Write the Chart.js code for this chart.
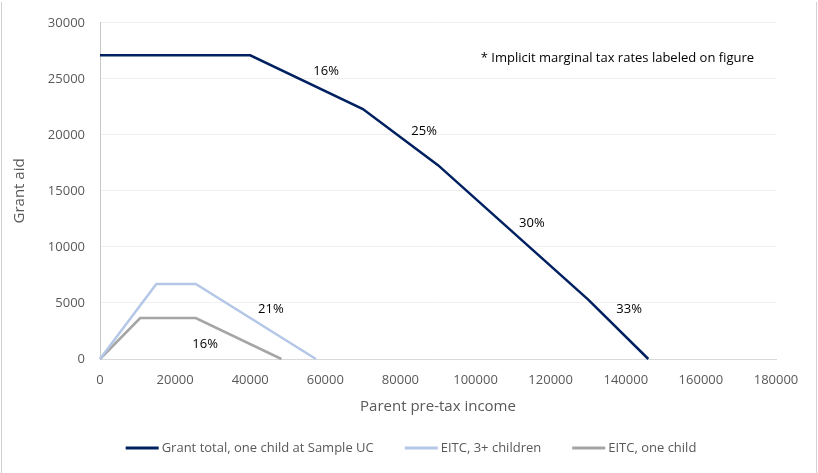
<!DOCTYPE html>
<html>
<head>
<meta charset="utf-8">
<script src="https://cdn.jsdelivr.net/npm/chart.js@4/dist/chart.umd.min.js"></script>
<style>
  html, body { margin: 0; padding: 0; background: #fff; }
  #wrap { position: relative; width: 818px; height: 473px; }
</style>
</head>
<body>
<div id="wrap"><canvas id="myChart" width="818" height="473"></canvas></div>
<script>
// grant aid and EITC schedules, by parent pre-tax income
const incomeGrant = [0, 40000, 70000, 90000, 130000, 146000];
const grantTotal  = [27100, 27100, 22300, 17300, 5300, 0];
const incomeEitc3 = [0, 15000, 25500, 57500];
const eitc3       = [0, 6700, 6700, 0];
const incomeEitc1 = [0, 10700, 25500, 48300];
const eitc1       = [0, 3650, 3650, 0];

const seriesNames = ['Grant total, one child at Sample UC', 'EITC, 3+ children', 'EITC, one child'];

// implicit marginal tax rates, placed next to each segment
const rateText = ['16%', '25%', '30%', '33%', '21%', '16%'];
const rateX    = [60200, 86300, 115000, 140900, 45500, 28000];
const rateY    = [25650, 20350, 12100, 4450, 4450, 1350];

const noteText = '* Implicit marginal tax rates labeled on figure';

const FONT = "'Open Sans', sans-serif";
const GREY = '#595959';

function pts(xs, ys) {
    return xs.map((x, i) => ({ x: x, y: ys[i] }));
}

const extras = {
    id: 'extras',
    beforeDraw(chart) {
        const ctx = chart.ctx;
        ctx.save();
        ctx.fillStyle = '#fff';
        ctx.fillRect(0, 0, chart.width, chart.height);
        ctx.strokeStyle = '#d0d0d0';
        ctx.lineWidth = 1;
        ctx.beginPath();
        ctx.moveTo(1.5, 2); ctx.lineTo(1.5, chart.height);
        ctx.moveTo(816.5, 2); ctx.lineTo(816.5, chart.height);
        ctx.stroke();
        ctx.restore();
    },
    afterDraw(chart) {
        const ctx = chart.ctx;
        const xs = chart.scales.x, ys = chart.scales.y;
        ctx.save();
        ctx.font = '13px ' + FONT;
        ctx.fillStyle = '#000';
        ctx.textAlign = 'center';
        ctx.textBaseline = 'middle';
        for (let i = 0; i < rateText.length; i++) {
            ctx.fillText(rateText[i], xs.getPixelForValue(rateX[i]), ys.getPixelForValue(rateY[i]));
        }
        ctx.textAlign = 'left';
        ctx.fillText(noteText, xs.getPixelForValue(101400), ys.getPixelForValue(26850));

        // legend along the bottom
        ctx.font = '13px ' + FONT;
        const sample = 33, gap = 3, spacing = 31;
        const widths = chart.data.datasets.map(d => ctx.measureText(d.label).width);
        let total = widths.reduce((a, b) => a + b, 0) + widths.length * (sample + gap) + (widths.length - 1) * spacing;
        let x = 411 - total / 2;
        const y = 448;
        chart.data.datasets.forEach((d, i) => {
            ctx.strokeStyle = d.borderColor;
            ctx.lineWidth = 3;
            ctx.beginPath();
            ctx.moveTo(x, y);
            ctx.lineTo(x + sample, y);
            ctx.stroke();
            ctx.fillStyle = GREY;
            ctx.fillText(d.label, x + sample + gap, y);
            x += sample + gap + widths[i] + spacing;
        });
        ctx.restore();
    }
};

const ctx = document.getElementById('myChart').getContext('2d');
const myChart = new Chart(ctx, {
    type: 'line',
    data: {
        datasets: [{
            label: seriesNames[0],
            data: pts(incomeGrant, grantTotal),
            borderColor: '#002060',
            borderWidth: 2.5
        }, {
            label: seriesNames[1],
            data: pts(incomeEitc3, eitc3),
            borderColor: '#B4C7E7',
            borderWidth: 2.5
        }, {
            label: seriesNames[2],
            data: pts(incomeEitc1, eitc1),
            borderColor: '#A5A5A5',
            borderWidth: 2.5
        }]
    },
    options: {
        responsive: false,
        animation: false,
        clip: false,
        elements: { point: { radius: 0 }, line: { tension: 0, fill: false } },
        layout: { padding: { left: 0, top: 20, right: 42, bottom: 54 } },
        plugins: { legend: { display: false }, tooltip: { enabled: false } },
        scales: {
            x: {
                type: 'linear',
                min: 0,
                max: 180000,
                ticks: {
                    stepSize: 20000,
                    padding: 13,
                    color: GREY,
                    font: { family: FONT, size: 13 },
                    maxRotation: 0,
                    callback: v => String(v)
                },
                grid: { display: false, drawTicks: false },
                border: { display: true, color: '#d9d9d9', width: 1 },
                title: {
                    display: true,
                    text: 'Parent pre-tax income',
                    color: GREY,
                    font: { family: FONT, size: 15 },
                    padding: { top: 0, bottom: 3 }
                },
                afterFit: s => { s.height = 60; }
            },
            y: {
                min: 0,
                max: 30000,
                ticks: {
                    stepSize: 5000,
                    padding: 15,
                    color: GREY,
                    font: { family: FONT, size: 13 },
                    callback: v => String(v)
                },
                grid: {
                    drawTicks: false,
                    color: c => (c.tick && c.tick.value === 0) ? '#d9d9d9' : '#f0f0f0'
                },
                border: { display: true, color: '#c8c8c8', width: 1 },
                title: {
                    display: true,
                    text: 'Grant aid',
                    color: GREY,
                    font: { family: FONT, size: 15 },
                    padding: { top: 11, bottom: 0 }
                },
                afterFit: s => { s.width = 100; }
            }
        }
    },
    plugins: [extras]
});
</script>
</body>
</html>
